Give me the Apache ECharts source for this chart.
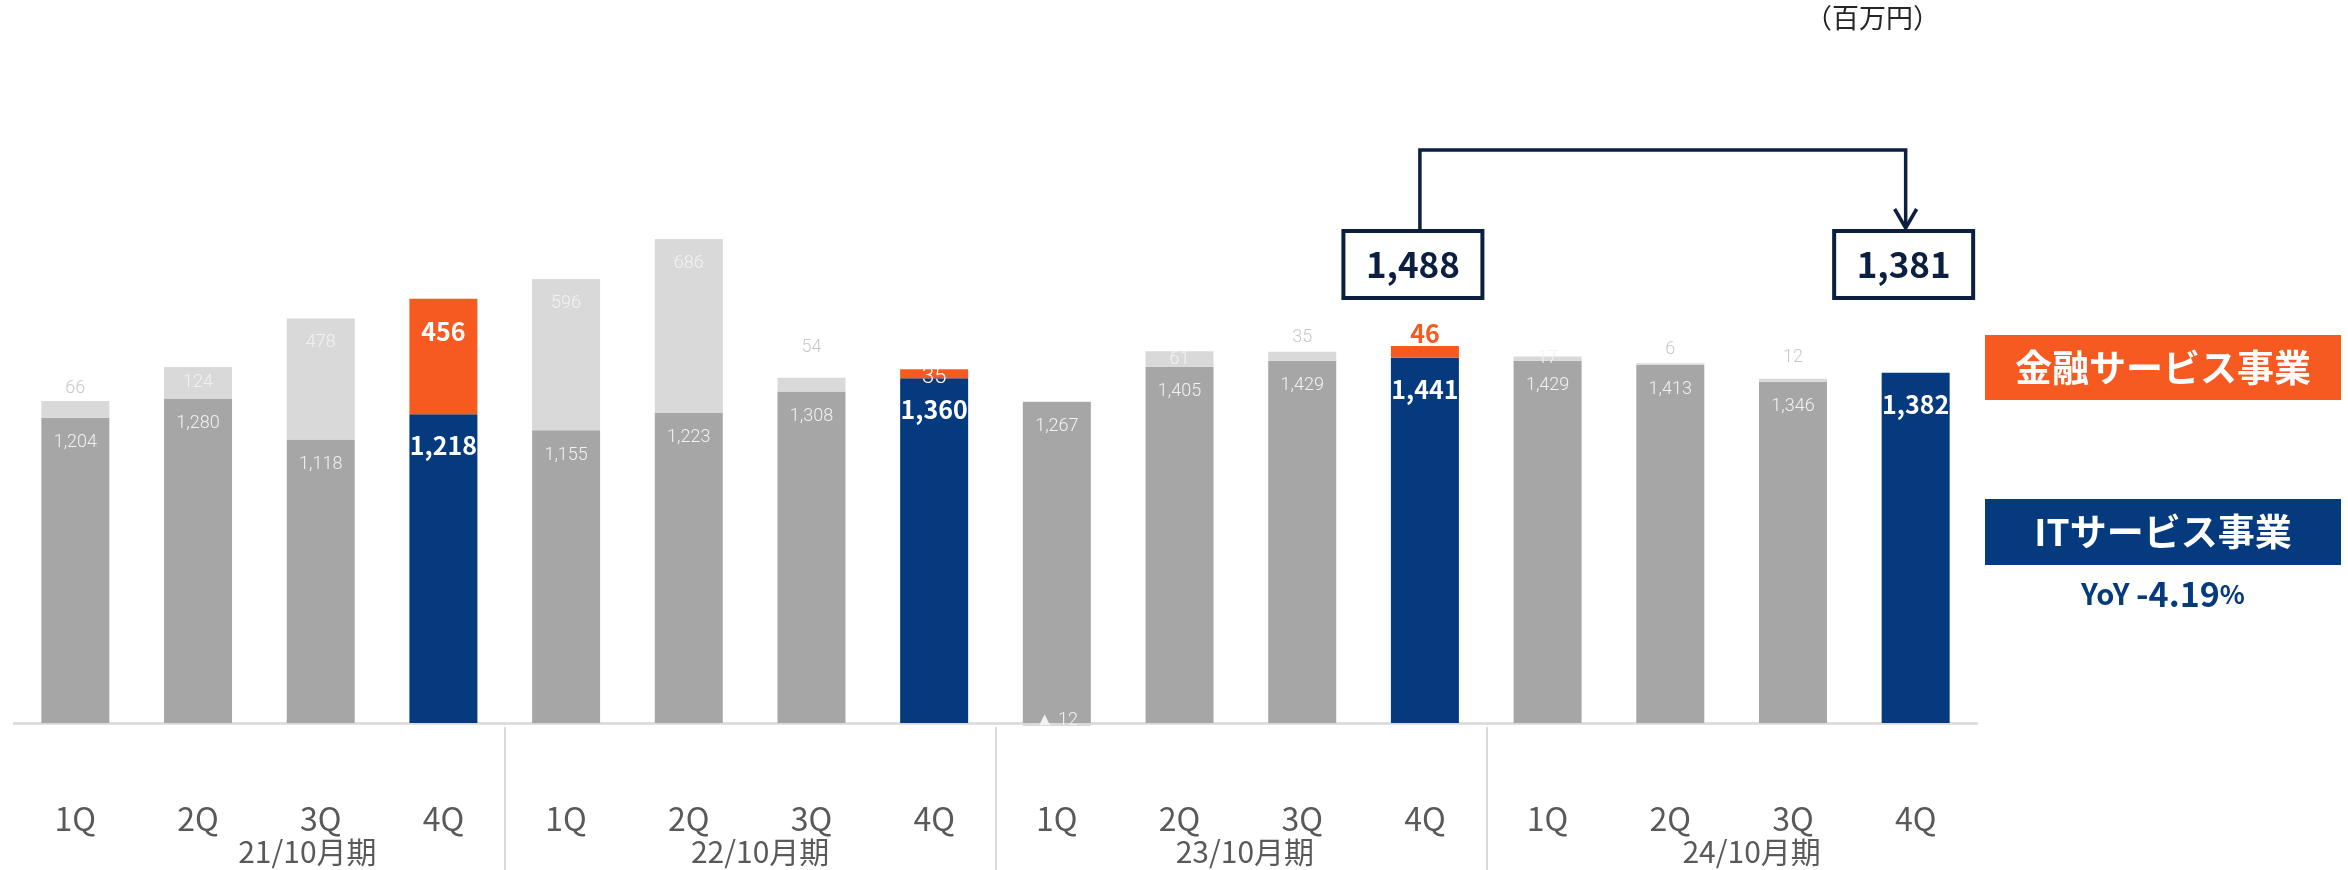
<!DOCTYPE html>
<html lang="ja">
<head>
<meta charset="utf-8">
<title>売上高推移（四半期）</title>
<script src="https://cdn.jsdelivr.net/npm/echarts/dist/echarts.min.js"></script>
<style>
  html, body { margin: 0; padding: 0; background: #ffffff; }
  #chart { width: 2348px; height: 870px; }
</style>
</head>
<body>
<div id="chart"></div>
<script>
// Quarter labels and fiscal-year groups
const quarters = ['1Q', '2Q', '3Q', '4Q', '1Q', '2Q', '3Q', '4Q',
                  '1Q', '2Q', '3Q', '4Q', '1Q', '2Q', '3Q', '4Q'];
const periods = ['21/10月期', '22/10月期', '23/10月期', '24/10月期'];

// Segment sales (百万円)
const itService = [1204, 1280, 1118, 1218, 1155, 1223, 1308, 1360,
                   1267, 1405, 1429, 1441, 1429, 1413, 1346, 1382];
const finService = [66, 124, 478, 456, 596, 686, 54, 35,
                    -12, 61, 35, 46, 17, 6, 12, null];

// Fourth quarters are highlighted
const highlightIdx = [3, 7, 11, 15];

// Year-end totals compared in the callout
const calloutIdx = [11, 15];
const calloutTotals = [1488, 1381];
const yoyText = '-4.19';

// Label placement for the financial segment (style only)
const finLabelPlace = ['top', 'inside', 'insideTop', 'insideTop', 'insideTop', 'insideTop', 'top', 'inside',
                       'inside', 'inside', 'top', 'top', 'inside', 'top', 'top', 'inside'];
const finLabelGap = [4, 0, 15, 20, 15, 15, 21, 0, 0, 0, 5, 0, 0, 5, 12, 0];
// Horizontal nudge of the fiscal-year captions (style only)
const periodNudge = [48, 10, 4, 20];

const GRAY = '#a6a6a6';
const LIGHT = '#d9d9d9';
const NAVY = '#053a7e';
const ORANGE = '#f75a20';
const DARK = '#0b1f40';
const JP = '"Noto Sans CJK JP", "Noto Sans", sans-serif';
const NUM = 'Roboto, "Noto Sans", sans-serif';

const fmt = v => {
  if (v == null) return '';
  const s = Math.abs(v).toString().replace(/\B(?=(\d{3})+(?!\d))/g, ',');
  return v < 0 ? '▲ ' + s : s;
};
const isHL = i => highlightIdx.indexOf(i) >= 0;

const itData = itService.map((v, i) => ({
  value: v,
  itemStyle: { color: isHL(i) ? NAVY : GRAY },
  label: isHL(i)
    ? { position: 'insideTop', distance: 19, color: '#ffffff', fontSize: 25, fontWeight: 'bold', fontFamily: JP }
    : { position: 'insideTop', distance: 16, color: '#f2f2f2', fontSize: 18, fontWeight: 300, fontFamily: NUM }
}));

const finData = finService.map((v, i) => {
  const hl = isHL(i);
  const place = finLabelPlace[i];
  const lbl = { position: place, distance: finLabelGap[i], fontFamily: NUM, fontSize: 18, fontWeight: 300 };
  if (hl) {
    if (place === 'top') {
      Object.assign(lbl, { color: ORANGE, fontSize: 25, fontWeight: 'bold', fontFamily: JP });
    } else if (place === 'insideTop') {
      Object.assign(lbl, { color: '#ffffff', fontSize: 25, fontWeight: 'bold', fontFamily: JP });
    } else {
      Object.assign(lbl, { color: '#ffffff', fontSize: 22, offset: [0, 4] });
    }
  } else if (place === 'top') {
    lbl.color = '#c8c8c8';
  } else {
    lbl.color = '#f2f2f2';
    if (v < 0) lbl.offset = [0, -4];
  }
  return { value: v, itemStyle: { color: hl ? ORANGE : LIGHT }, label: lbl };
});

const periodData = periods.map((p, i) => ({
  value: p,
  textStyle: { padding: [0, 0, 0, periodNudge[i] * 2] }
}));

const chart = echarts.init(document.getElementById('chart'), null, { renderer: 'canvas' });

chart.setOption({
  animation: false,
  backgroundColor: '#ffffff',
  grid: [
    { left: 14, width: 1963, top: 216, bottom: 142 },
    { left: 14, width: 1963, top: 727, bottom: 0 }
  ],
  xAxis: [
    {
      type: 'category', gridIndex: 0, data: quarters,
      axisLine: { show: true, onZero: true, lineStyle: { color: LIGHT, width: 2.5 } },
      axisTick: { show: false },
      axisLabel: { interval: 0, margin: 75, fontSize: 32, color: '#595959', fontFamily: JP }
    },
    {
      type: 'category', gridIndex: 1, data: periodData, position: 'bottom',
      axisLine: { show: false },
      axisTick: { show: false },
      axisLabel: { inside: true, margin: 3, interval: 0, fontSize: 30, color: '#595959', fontFamily: JP },
      splitLine: { show: true, interval: 0, showMinLine: false, showMaxLine: false,
                   lineStyle: { color: '#d9d9d9', width: 2 } }
    }
  ],
  yAxis: [
    { type: 'value', gridIndex: 0, min: -20, max: 2000,
      axisLine: { show: false }, axisTick: { show: false }, axisLabel: { show: false }, splitLine: { show: false } },
    { type: 'value', gridIndex: 1, show: false }
  ],
  series: [
    {
      name: 'ITサービス事業', type: 'bar', stack: 'total', barWidth: 68,
      xAxisIndex: 0, yAxisIndex: 0,
      label: { show: true, formatter: p => fmt(p.value) },
      data: itData
    },
    {
      name: '金融サービス事業', type: 'bar', stack: 'total', barWidth: 68,
      xAxisIndex: 0, yAxisIndex: 0,
      label: { show: true, formatter: p => fmt(p.value) },
      data: finData
    }
  ]
});

// Callout boxes above the compared quarters, joined by an arrow
const cx = calloutIdx.map(i => chart.convertToPixel({ xAxisIndex: 0 }, i));
const boxW = 139, boxH = 67, boxTop = 231, lineTop = 150;
const lx1 = cx[0] - 5, lx2 = cx[1] - 10;

const graphics = [
  {
    type: 'polyline', z: 100,
    shape: { points: [[lx1, boxTop], [lx1, lineTop], [lx2, lineTop], [lx2, boxTop - 3]] },
    style: { stroke: DARK, lineWidth: 3.5, fill: null, lineJoin: 'miter' }
  },
  {
    type: 'polyline', z: 100,
    shape: { points: [[lx2 - 11, boxTop - 22], [lx2, boxTop - 3], [lx2 + 11, boxTop - 22]] },
    style: { stroke: DARK, lineWidth: 3.5, fill: null }
  },
  // Unit note
  {
    type: 'text', left: 1805, top: 4, z: 100,
    style: { text: '（百万円）', fontSize: 27, fill: '#262626', fontFamily: JP }
  },
  // Segment tags
  {
    type: 'group', left: 1985, top: 335, z: 100,
    children: [
      { type: 'rect', shape: { x: 0, y: 0, width: 356, height: 65 }, style: { fill: ORANGE } },
      { type: 'text', x: 178, y: 33,
        style: { text: '金融サービス事業', fontSize: 37, fontWeight: 'bold', fill: '#ffffff',
                 fontFamily: JP, align: 'center', verticalAlign: 'middle' } }
    ]
  },
  {
    type: 'group', left: 1985, top: 499, z: 100,
    children: [
      { type: 'rect', shape: { x: 0, y: 0, width: 356, height: 66 }, style: { fill: NAVY } },
      { type: 'text', x: 178, y: 33,
        style: { text: 'ITサービス事業', fontSize: 37, fontWeight: 'bold', fill: '#ffffff',
                 fontFamily: JP, align: 'center', verticalAlign: 'middle' } }
    ]
  },
  {
    type: 'text', x: 2163, y: 594, z: 100,
    style: {
      text: '{a|YoY }{b|' + yoyText + '}{c|%}',
      align: 'center', verticalAlign: 'middle',
      rich: {
        a: { fontSize: 29, fontWeight: 'bold', fill: NAVY, fontFamily: JP },
        b: { fontSize: 34, fontWeight: 'bold', fill: NAVY, fontFamily: JP },
        c: { fontSize: 26, fontWeight: 'bold', fill: NAVY, fontFamily: JP }
      }
    }
  }
];

cx.forEach((x, k) => {
  const bx = x - 12 - boxW / 2;
  graphics.push({
    type: 'rect', z: 101,
    shape: { x: bx, y: boxTop, width: boxW, height: boxH },
    style: { fill: '#ffffff', stroke: DARK, lineWidth: 4 }
  });
  graphics.push({
    type: 'text', z: 102, x: bx + boxW / 2, y: boxTop + boxH / 2,
    style: { text: fmt(calloutTotals[k]), fontSize: 35, fontWeight: 'bold', fill: DARK,
             fontFamily: JP, align: 'center', verticalAlign: 'middle' }
  });
});

chart.setOption({ graphic: graphics });
</script>
</body>
</html>
